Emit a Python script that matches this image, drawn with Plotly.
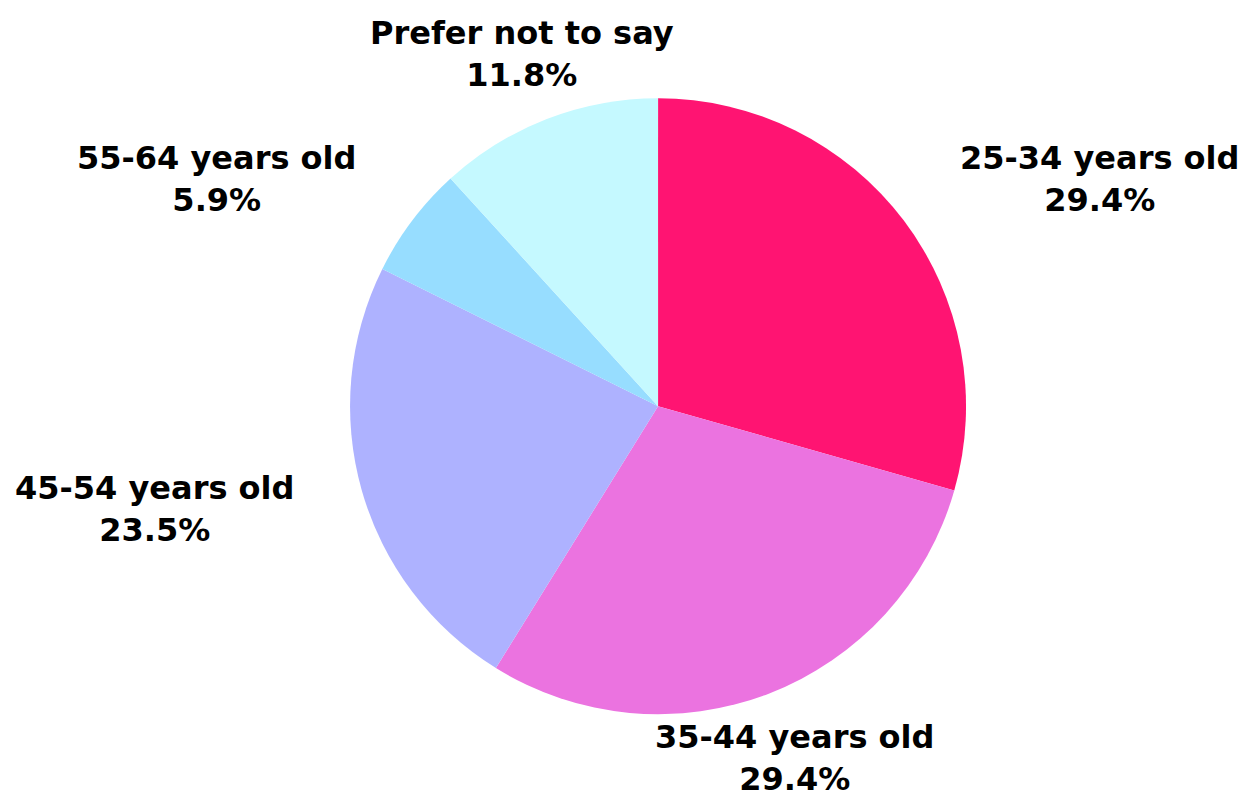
import math
import plotly.graph_objects as go

labels = ["25-34 years old", "35-44 years old", "45-54 years old", "55-64 years old", "Prefer not to say"]
values = [5, 5, 4, 1, 2]
colors = ["#FF1472", "#EB73E0", "#AEB2FF", "#97DDFF", "#C5F9FF"]

W, H = 1252, 798
dom_x = [0.2732, 0.7652]
dom_y = [0.115, 0.887]

fig = go.Figure(go.Pie(
    labels=labels,
    values=values,
    sort=False,
    direction="clockwise",
    rotation=0,
    marker=dict(colors=colors, line=dict(width=0)),
    textinfo="none",
    showlegend=False,
    hoverinfo="label+percent",
    domain=dict(x=dom_x, y=dom_y),
))

# outside labels placed radially from the slice mid-angles
cx = sum(dom_x) / 2
cy = sum(dom_y) / 2
R = min((dom_x[1] - dom_x[0]) * W, (dom_y[1] - dom_y[0]) * H) / 2
rl = 1.225 * R
total = sum(values)
cum = 0
for lab, v in zip(labels, values):
    mid = (cum + v / 2) / total * 2 * math.pi
    cum += v
    s, c = math.sin(mid), math.cos(mid)
    if abs(s) < 0.5:
        xa = "center"
    else:
        xa = "left" if s > 0 else "right"
    fig.add_annotation(
        x=cx, y=cy, xref="paper", yref="paper",
        xshift=s * rl, yshift=c * rl,
        xanchor=xa, yanchor="middle", align="center",
        showarrow=False, borderpad=0,
        text=f"<b>{lab}</b><br><b>{v / total:.1%}</b>",
        font=dict(family="DejaVu Sans, sans-serif", size=32, color="#000000"),
    )

fig.update_layout(
    width=W, height=H,
    margin=dict(l=0, r=0, t=0, b=0),
    paper_bgcolor="white",
    plot_bgcolor="white",
)
fig.write_html("out.html")
